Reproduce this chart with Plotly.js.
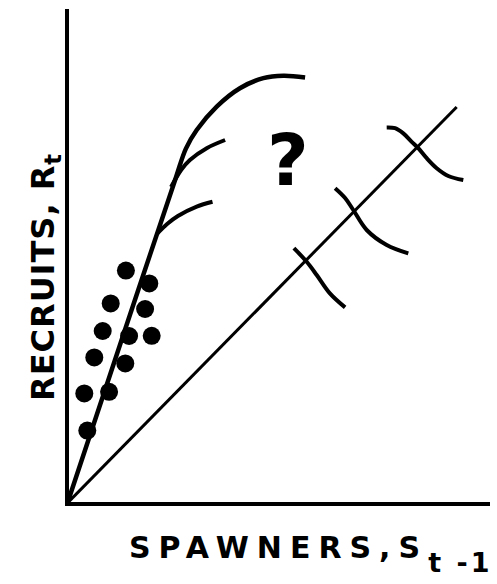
<!DOCTYPE html>
<html>
<head>
<meta charset="utf-8">
<script src="https://cdn.plot.ly/plotly-3.0.1.min.js"></script>
<style>
  html, body { margin: 0; padding: 0; background: #fff; }
  #plot { width: 497px; height: 584px; }
  .annotation[data-index="0"] text.annotation-text { letter-spacing: 8px; }
  .annotation[data-index="1"] text.annotation-text { letter-spacing: 1px; }
</style>
</head>
<body>
<div id="plot"></div>
<script>
// sketch of a stock-recruitment diagram, arbitrary units (same scale on both axes)
const dotS = [14.6, 20.45, 10.8, 19.4, 8.8, 15.4, 21.05, 6.7, 14.45, 4.2, 10.4, 4.95];
const dotR = [58.1, 54.9, 49.9, 48.5, 43, 41.75, 41.8, 36.4, 34.9, 27.4, 27.8, 18.1];

// replacement line R = S
const diagS = [0, 97.3];
const diagR = [0, 99];

// steep line through the dots, bending over at the top
const topS = [0, 15.6, 26.9, 29.6, 32.3, 37.3, 43.1, 48.95, 53.95, 59.4];
const topR = [0, 47, 80.75, 88.6, 93.25, 99.1, 103.7, 106.2, 106.8, 106.4];

const midS = [25.9, 28.4, 30.6, 34.8, 39.4];
const midR = [79, 83.25, 85.75, 88.7, 90.75];

const lowS = [22.5, 24.9, 27.6, 32.3, 36.25];
const lowR = [67.4, 69.75, 71.75, 74.1, 75.3];

// short curve pieces crossing the replacement line
const arc1S = [56.6, 59.8, 62.3, 65.6, 69.4];
const arc1R = [63.7, 60.3, 57, 52.4, 48.9];
const arc2S = [66.9, 69.4, 71.45, 74.8, 79.8, 85.2];
const arc2R = [78.7, 76.25, 73.25, 68.25, 64.5, 62.4];
const arc3S = [79.8, 81.9, 83.95, 86.05, 87.7, 89.8, 92.3, 95.2, 98.95];
const arc3R = [93.9, 93.7, 92.4, 90.3, 88.7, 86.2, 83.7, 81.75, 80.75];

const xTitle = 'SPAWNERS,S<sub><span style="font-size:27px;letter-spacing:3px;baseline-shift:-8px">t -1</span></sub>';
const yTitle = 'RECRUITS, R<sub>t</sub>';

function curve(x, y, w, shape) {
  return {
    x: x, y: y, mode: "lines", hoverinfo: "skip",
    line: { color: "#000", width: w, shape: shape || "spline", smoothing: 1 }
  };
}

const traces = [
  curve(diagS, diagR, 3, "linear"),
  curve(topS, topR, 4.5),
  curve(midS, midR, 4),
  curve(lowS, lowR, 4),
  curve(arc1S, arc1R, 4),
  curve(arc2S, arc2R, 4),
  curve(arc3S, arc3R, 4),
  {
    x: dotS, y: dotR, mode: "markers", hoverinfo: "skip",
    marker: { color: "#000", size: 18 }
  }
];

const bareAxis = {
  showline: true, linewidth: 4, linecolor: "#000",
  showgrid: false, zeroline: false, showticklabels: false, ticks: "",
  fixedrange: true
};

const layout = {
  width: 497, height: 584,
  margin: { l: 69, r: 7, t: 9, b: 82 },
  paper_bgcolor: "#fff", plot_bgcolor: "#fff",
  showlegend: false,
  xaxis: Object.assign({ range: [0.375, 105.625] }, bareAxis),
  yaxis: Object.assign({ range: [0.25, 123.5] }, bareAxis),
  annotations: [
    {
      text: xTitle, xref: "paper", yref: "paper",
      x: 0.574, y: -0.052, xanchor: "center", yanchor: "top",
      showarrow: false,
      font: { family: "DejaVu Sans", size: 30, color: "#000", weight: 700 }
    },
    {
      text: yTitle, xref: "paper", yref: "paper", textangle: -90,
      x: -0.057, y: 0.4564, xanchor: "center", yanchor: "middle",
      showarrow: false,
      font: { family: "DejaVu Sans", size: 32, color: "#000", weight: 700 }
    },
    {
      text: "?", x: 55.1, y: 85.75, xanchor: "center", yanchor: "middle",
      showarrow: false,
      font: { family: "DejaVu Sans", size: 72, color: "#000", weight: 700 }
    }
  ]
};

Plotly.newPlot("plot", traces, layout, { staticPlot: true, displayModeBar: false });
</script>
</body>
</html>
